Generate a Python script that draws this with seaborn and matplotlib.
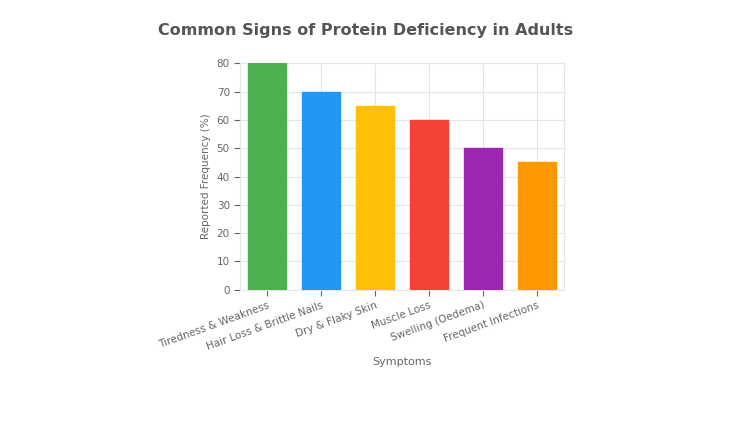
import matplotlib
matplotlib.use("Agg")
import matplotlib.pyplot as plt
import seaborn as sns
import pandas as pd

categories = ["Tiredness & Weakness", "Hair Loss & Brittle Nails", "Dry & Flaky Skin",
              "Muscle Loss", "Swelling (Oedema)", "Frequent Infections"]
values = [80, 70, 65, 60, 50, 45]
colors = ["#4caf50", "#2196f3", "#ffc107", "#f44336", "#9c27b0", "#ff9800"]
yticks = [0, 10, 20, 30, 40, 50, 60, 70, 80]

df = pd.DataFrame({"Symptoms": categories, "Freq": values})
fig = plt.figure(figsize=(7.53, 4.23), dpi=100)
ax = fig.add_axes([0.319, 0.315, 0.43, 0.535])
sns.barplot(data=df, x="Symptoms", y="Freq", hue="Symptoms", palette=colors,
            saturation=1, width=0.7, ax=ax, legend=False, zorder=3)
for p in ax.patches:
    p.set_edgecolor(p.get_facecolor()); p.set_alpha(1)
ax.set_ylim(0, 80)
ax.set_yticks(yticks)
ax.grid(True, color="#e5e5e5", lw=0.8, zorder=0)
for s in ax.spines.values():
    s.set_color("#e5e5e5")
ax.tick_params(colors="#666666", labelsize=7.5, length=4)
ax.set_xticks(range(len(categories)))
ax.set_xticklabels(categories, rotation=20, ha="right", rotation_mode="anchor")
ax.set_xlabel("Symptoms", color="#666666", fontsize=8, labelpad=4)
ax.set_ylabel("Reported Frequency (%)", color="#666666", fontsize=7.5)
fig.suptitle("Common Signs of Protein Deficiency in Adults", x=0.485, y=0.945,
             fontsize=11.5, fontweight="bold", color="#555555")
fig.savefig("out.png", dpi=100)
